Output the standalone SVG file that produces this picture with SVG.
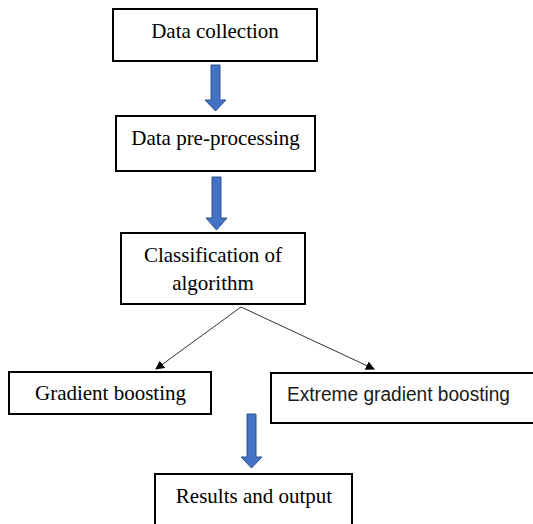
<svg xmlns="http://www.w3.org/2000/svg" width="533" height="524" viewBox="0 0 533 524">
<defs>
<style>
.box{fill:#fff;stroke:#000;stroke-width:2}
.t{font-family:"Liberation Serif","Times New Roman",serif;font-size:21px;fill:#000;text-anchor:middle}
.s{font-family:"Liberation Sans",Arial,sans-serif;font-size:20px;fill:#1a1a1a;text-anchor:middle}
.blk{fill:#4472C4;stroke:#2F528F;stroke-width:1}
.ln{stroke:#333;stroke-width:1;fill:none}
</style>
<marker id="ah" markerWidth="9" markerHeight="9" refX="8" refY="4.5" orient="auto" markerUnits="userSpaceOnUse">
<path d="M0,0 L9,4.5 L0,9 Z" fill="#000"/>
</marker>
</defs>
<rect width="533" height="524" fill="#fff"/>
<g id="connectors">
<path class="blk" d="M211,65 H220 V100 H226 L215.5,111 L205,100 H211 Z"/>
<path class="blk" d="M212,177 H221 V218 H227 L216.5,230 L206,218 H212 Z"/>
<path class="blk" d="M247,414 H256 V457 H262 L251.5,468 L241,457 H247 Z"/>
<line class="ln" x1="241" y1="307" x2="156" y2="369" marker-end="url(#ah)"/>
<line class="ln" x1="241" y1="307" x2="374" y2="369" marker-end="url(#ah)"/>
</g>
<g id="n1">
<rect class="box" x="113" y="9" width="204" height="52"/>
<text class="t" x="215" y="38">Data collection</text>
</g>
<g id="n2">
<rect class="box" x="116" y="116" width="199" height="55"/>
<text class="t" x="215.5" y="145">Data pre-processing</text>
</g>
<g id="n3">
<rect class="box" x="121" y="233" width="184" height="71"/>
<text class="t" x="213" y="262">Classification of</text>
<text class="t" x="213" y="290">algorithm</text>
</g>
<g id="n4">
<rect class="box" x="9" y="372" width="202" height="42"/>
<text class="t" x="110.5" y="400">Gradient boosting</text>
</g>
<g id="n5">
<rect class="box" x="271" y="373" width="270" height="50"/>
<text class="s" x="398.5" y="401" textLength="223" lengthAdjust="spacingAndGlyphs">Extreme gradient boosting</text>
</g>
<g id="n6">
<rect class="box" x="155" y="474" width="197" height="60"/>
<text class="t" x="254" y="503">Results and output</text>
</g>
</svg>
